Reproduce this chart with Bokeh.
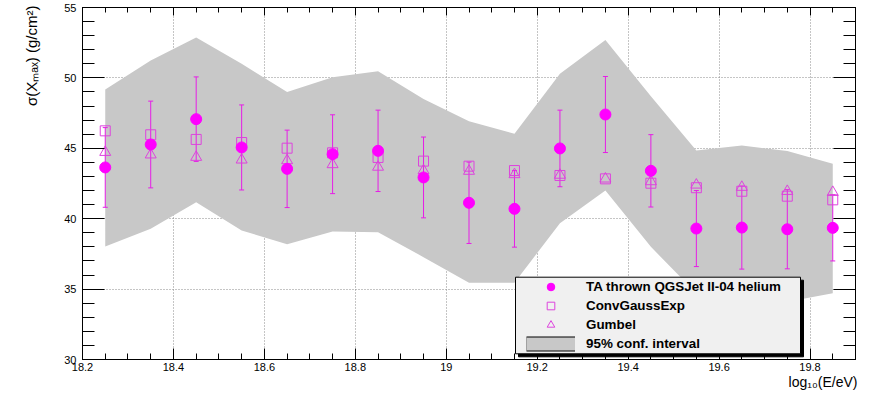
import numpy as np
from bokeh.plotting import figure
from bokeh.models import (LinearAxis, FixedTicker, CustomJSTickFormatter, Legend,
                          LegendItem, BoxAnnotation, Range1d, Title)
from bokeh.embed import file_html
from bokeh.resources import INLINE

# ---------------- data ----------------
log_e = [18.25, 18.35, 18.45, 18.55, 18.65, 18.75, 18.85, 18.95, 19.05,
         19.15, 19.25, 19.35, 19.45, 19.55, 19.65, 19.75, 19.85]
ta_sigma = [43.64, 45.27, 47.07, 45.06, 43.54, 44.58, 44.82, 42.93, 41.13,
            40.70, 44.99, 47.40, 43.40, 39.30, 39.37, 39.25, 39.35]
ta_err = [2.83, 3.08, 3.00, 3.02, 2.75, 2.80, 2.89, 2.87, 2.89,
          2.72, 2.72, 2.70, 2.57, 2.70, 2.95, 2.81, 2.35]
conv_gauss_exp = [46.24, 45.96, 45.63, 45.41, 45.01, 44.68, 44.35, 44.09, 43.73,
                  43.42, 43.07, 42.83, 42.52, 42.20, 41.95, 41.60, 41.34]
gumbel = [44.72, 44.54, 44.37, 44.18, 44.13, 43.85, 43.67, 43.42, 43.38,
          43.14, 43.10, 42.83, 42.64, 42.40, 42.24, 41.95, 41.88]
band_upper = [49.18, 51.24, 52.87, 51.00, 48.99, 50.05, 50.48, 48.51, 46.92,
              46.03, 50.29, 52.70, 48.70, 44.84, 45.20, 44.80, 43.90]
band_lower = [38.03, 39.28, 41.17, 39.16, 38.19, 39.09, 39.04, 37.27, 35.45,
              35.45, 39.68, 42.00, 38.00, 34.70, 34.30, 34.10, 34.70]

x_major_ticks = [18.2, 18.4, 18.6, 18.8, 19.0, 19.2, 19.4, 19.6, 19.8]
y_major_ticks = [30, 35, 40, 45, 50, 55]

labels = ["TA thrown QGSJet II-04 helium", "ConvGaussExp", "Gumbel", "95% conf. interval"]
x_title = "log\u2081\u2080(E/eV)"
y_title = "\u03c3(X\u2098\u2090\u2093) (g/cm\u00b2)"

# ---------------- derived ----------------
ta_lo = [v - e for v, e in zip(ta_sigma, ta_err)]
ta_hi = [v + e for v, e in zip(ta_sigma, ta_err)]
x_minor_ticks = [float(v) for v in np.round(np.arange(18.2, 19.9001, 0.05), 2)]
y_minor_ticks = list(range(30, 56))

FONT = "Liberation Sans"
MAGENTA = "#ff00ff"
OPEN_MAG = "#dd44dd"
ERR_MAG = "#e61ee6"
BAND = "#c8c8c8"

p = figure(width=872, height=393, output_backend="svg", toolbar_location=None,
           x_range=Range1d(18.2, 19.9), y_range=Range1d(30, 55),
           min_border_left=82, min_border_right=17, min_border_top=7, min_border_bottom=34)
p.background_fill_color = "white"
p.border_fill_color = "white"
p.outline_line_color = "black"
p.outline_line_width = 1

x_ticker = FixedTicker(ticks=x_major_ticks, minor_ticks=x_minor_ticks)
y_ticker = FixedTicker(ticks=y_major_ticks, minor_ticks=y_minor_ticks)
fmt = CustomJSTickFormatter(code="return String(tick)")


def style_axis(ax, ticker, major_in, minor_in, show_labels):
    ax.ticker = ticker
    ax.formatter = fmt
    ax.axis_line_color = "black"
    ax.major_tick_in = major_in
    ax.major_tick_out = 0
    ax.minor_tick_in = minor_in
    ax.minor_tick_out = 0
    ax.major_tick_line_color = "black"
    ax.minor_tick_line_color = "black"
    if show_labels:
        ax.major_label_text_font = FONT
        ax.major_label_text_font_size = "11px"
        ax.major_label_text_color = "black"
    else:
        ax.major_label_text_font_size = "0px"
        ax.major_label_text_color = None
        ax.major_label_standoff = 0


style_axis(p.xaxis[0], x_ticker, 11, 6, True)
p.xaxis[0].major_label_standoff = 3
style_axis(p.yaxis[0], y_ticker, 22, 12, True)
p.yaxis[0].major_label_standoff = 6

top_ax = LinearAxis()
style_axis(top_ax, x_ticker, 8, 5, False)
p.add_layout(top_ax, "above")
right_ax = LinearAxis()
style_axis(right_ax, y_ticker, 22, 12, False)
p.add_layout(right_ax, "right")

p.xgrid.ticker = x_ticker
p.ygrid.ticker = y_ticker
p.grid.grid_line_color = "#8a8a8a"
p.grid.grid_line_dash = "1 2"
p.grid.grid_line_width = 1

# confidence band
p.varea(x=log_e, y1=band_lower, y2=band_upper, fill_color=BAND)

# error bars
p.segment(x0=log_e, y0=ta_lo, x1=log_e, y1=ta_hi, line_color=ERR_MAG, line_width=1)
p.scatter(x=log_e + log_e, y=ta_lo + ta_hi, marker="dash", size=5,
          line_color=ERR_MAG, line_width=1)

sq = p.scatter(x=log_e, y=conv_gauss_exp, marker="square", size=10,
               fill_color=None, line_color=OPEN_MAG, line_width=1)
tri = p.scatter(x=log_e, y=gumbel, marker="triangle", size=11,
                fill_color=None, line_color=OPEN_MAG, line_width=1)
circ = p.scatter(x=log_e, y=ta_sigma, marker="circle", size=11,
                 fill_color=MAGENTA, line_color=MAGENTA)

# legend swatch renderers for the band entry (one undrawable NaN point each)
nan = float("nan")
sw_black = p.line(x=[nan], y=[nan], line_color="black", line_width=15)
sw_gray = p.line(x=[nan], y=[nan], line_color=BAND, line_width=13)

# legend frame with shadow
shadow = BoxAnnotation(left=436, right=721, top=79.3, bottom=2.7,
                       left_units="screen", right_units="screen",
                       top_units="screen", bottom_units="screen",
                       fill_color="black", fill_alpha=1, line_color="black", line_alpha=1)
box = BoxAnnotation(left=433, right=718, top=82.3, bottom=5.7,
                    left_units="screen", right_units="screen",
                    top_units="screen", bottom_units="screen",
                    fill_color="#f0f0f0", fill_alpha=1, line_color="black",
                    line_alpha=1, line_width=1)
p.add_layout(shadow)
p.add_layout(box)

legend = Legend(items=[
    LegendItem(label=labels[0], renderers=[circ]),
    LegendItem(label=labels[1], renderers=[sq]),
    LegendItem(label=labels[2], renderers=[tri]),
    LegendItem(label=labels[3], renderers=[sw_black, sw_gray]),
], location=(444, 6), glyph_width=49, glyph_height=19, label_height=19,
    spacing=0, padding=0, margin=0, label_standoff=11,
    background_fill_alpha=0, border_line_color=None,
    label_text_font=FONT, label_text_font_style="bold",
    label_text_font_size="13.4px", label_text_color="black")
p.add_layout(legend, "center")

# axis titles (side-panel titles, so they are not clipped by the frame)
xt = Title(text=x_title, align="right", vertical_align="top", standoff=0, offset=-2,
           text_font=FONT, text_font_size="14px", text_font_style="normal",
           text_color="black")
p.add_layout(xt, "below")
yt = Title(text=y_title, align="right", vertical_align="top", standoff=40, offset=-2,
           text_font=FONT, text_font_size="15px", text_font_style="normal",
           text_color="black")
p.add_layout(yt, "left")

open("out.html", "w").write(file_html(p, INLINE))
